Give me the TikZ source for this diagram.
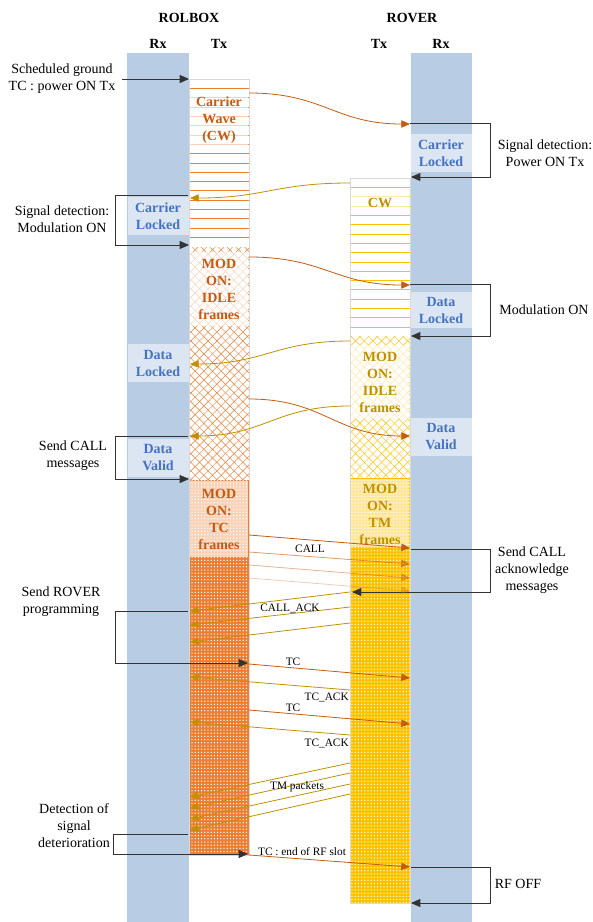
\documentclass[tikz,border=0pt]{standalone}
\usepackage{fontspec}
\setmainfont{Liberation Serif}
\usepackage{tikz}
\usetikzlibrary{arrows.meta,patterns.meta}
\definecolor{rxblue}{HTML}{B8CCE4}
\definecolor{lockfill}{HTML}{DCE6F2}
\definecolor{locktext}{HTML}{4472C4}
\definecolor{rborange}{HTML}{ED7D31}
\definecolor{rborangedk}{HTML}{C55A11}
\definecolor{rvgold}{HTML}{FFC000}
\definecolor{rvgolddk}{HTML}{BF9000}

\tikzset{
  note/.style={align=center,inner sep=0.75pt,font=\fontsize{10.5}{12.75}\selectfont},
  head/.style={inner sep=0.75pt,font=\bfseries\fontsize{10.5}{12.75}\selectfont},
  lockbox/.style={fill=lockfill,text=locktext,align=center,inner sep=0pt,minimum width=45.75pt,minimum height=29pt,font=\bfseries\fontsize{10.5}{12.75}\selectfont},
  rbtext/.style={text=rborangedk,align=center,inner sep=1pt,font=\bfseries\fontsize{10.5}{12.75}\selectfont},
  rvtext/.style={text=rvgolddk,align=center,inner sep=1pt,font=\bfseries\fontsize{10.5}{12.75}\selectfont},
  veil/.style={fill=white,fill opacity=0.65,text opacity=1,minimum width=44pt},
  msg/.style={inner sep=0.75pt,font=\fontsize{8.5}{10}\selectfont},
  bk/.style={draw=black!80,line width=0.6pt,-{Triangle[length=7pt,width=6pt]}},
  rbarrow/.style={draw=rborangedk,line width=0.6pt,-{Triangle[length=6.5pt,width=5.5pt]}},
  rvarrow/.style={draw=rvgolddk,line width=0.6pt,-{Triangle[length=6.5pt,width=5.5pt]}},
  hatchA/.style={pattern={Lines[angle=45,distance=4.6pt,line width=0.35pt]}},
  hatchB/.style={pattern={Lines[angle=-45,distance=4.6pt,line width=0.35pt]}},
  dotfill/.style={pattern={Dots[distance=2.4pt,radius=0.55pt]},pattern color=white}
}

\begin{document}
\begin{tikzpicture}[x=0.75pt,y=0.75pt,yscale=-1,xscale=1]
\useasboundingbox (0,0) rectangle (593,922);
% receive columns
\fill[rxblue] (127,53) rectangle (189,922);
\fill[rxblue] (411,53) rectangle (472,922);
% ROLBOX Tx
\foreach \y in {79,88.33,...,246} \draw[rborange,line width=0.7pt] (189,\y) -- (249,\y);
\path[hatchA,pattern color=rborange] (189,247) rectangle (249,480);
\path[hatchB,pattern color=rborange] (189,247) rectangle (249,480);
\fill[rborange] (189,480) rectangle (249,855);
\fill[rborange!35] (190,481) rectangle (248,557);
\path[dotfill] (189,480) rectangle (249,855);
\draw[gray!30,line width=0.4pt] (189,79) rectangle (249,855);
% ROVER Tx
\foreach \y in {178,187.33,...,335} \draw[rvgold,line width=0.7pt] (350,\y) -- (410,\y);
\path[hatchA,pattern color=rvgold] (350,336) rectangle (410,478);
\path[hatchB,pattern color=rvgold] (350,336) rectangle (410,478);
\fill[rvgold] (350,478) rectangle (410,903);
\fill[rvgold!40] (351,479) rectangle (409,547);
\path[dotfill] (350,478) rectangle (410,903);
\draw[gray!30,line width=0.4pt] (350,178) rectangle (410,903);

% headings
\node[head] (rolbox) at (189,18) {ROLBOX};
\node[head] (rover) at (412,18) {ROVER};
\node[head] (rbrx) at (158,44) {Rx};
\node[head] (rbtx) at (219,44) {Tx};
\node[head] (rvtx) at (379,44) {Tx};
\node[head] (rvrx) at (441,44) {Rx};

% states in Tx columns
\node[rbtext,veil,minimum height=38pt] (rbcw) at (219,120) {Carrier\\Wave\\(CW)};
\node[rbtext,veil,minimum height=55pt] (rbidle) at (219,289) {MOD\\ON:\\IDLE\\frames};
\node[rbtext] (rbtc) at (219,519) {MOD\\ON:\\TC\\frames};
\node[rvtext,veil,minimum height=12pt] (rvcw) at (380,203) {CW};
\node[rvtext,veil,minimum height=55pt] (rvidle) at (380,382) {MOD\\ON:\\IDLE\\frames};
\node[rvtext] (rvtm) at (380,514) {MOD\\ON:\\TM\\frames};

% states in Rx columns
\node[lockbox] (rbcl) at (158,216) {Carrier\\Locked};
\node[lockbox] (rbdl) at (158,363) {Data\\Locked};
\node[lockbox] (rbdv) at (158,458) {Data\\Valid};
\node[lockbox] (rvcl) at (441,153) {Carrier\\Locked};
\node[lockbox,minimum height=27pt] (rvdl) at (441,310) {Data\\Locked};
\node[lockbox,minimum height=28pt] (rvdv) at (441,437) {Data\\Valid};

% annotations
\node[note] (sched) at (62,79) {Scheduled ground\\TC : power ON Tx};
\node[note] (sigmod) at (62,219) {Signal detection:\\Modulation ON};
\node[note] (sigpow) at (545,153) {Signal detection:\\Power ON Tx};
\node[note] (modon) at (544,310) {Modulation ON};
\node[note] (sendcall) at (73,456) {Send CALL\\messages};
\node[note] (sendack) at (532,570) {Send CALL\\acknowledge\\messages};
\node[note] (sendprog) at (61,602) {Send ROVER\\programming};
\node[note] (detect) at (74,826) {Detection of\\signal\\deterioration};
\node[note] (rfoff) at (518,884) {RF OFF};

% bracket arrows
\coordinate (b1s) at (122,79);  \coordinate (b1e) at (189,79);
\coordinate (b2s) at (188,195); \coordinate (b2e) at (189,245);
\coordinate (b3s) at (410,123); \coordinate (b3e) at (411,177);
\coordinate (b4s) at (410,284); \coordinate (b4e) at (411,336);
\coordinate (b5s) at (188,436); \coordinate (b5e) at (189,479);
\coordinate (b6s) at (411,549); \coordinate (b6e) at (352,592);
\coordinate (b7s) at (188,611); \coordinate (b7e) at (248,663);
\coordinate (b8s) at (188,834); \coordinate (b8e) at (248,854);
\coordinate (b9s) at (411,867); \coordinate (b9e) at (411,903);
\draw[bk] (b1s) -- (b1e);
\draw[bk] (b2s) -- (115,195) |- (b2e);
\draw[bk] (b3s) -- (490,123) |- (b3e);
\draw[bk] (b4s) -- (490,284) |- (b4e);
\draw[bk] (b5s) -- (115,436) |- (b5e);
\draw[bk] (b6s) -- (490,549) |- (b6e);
\draw[bk] (b7s) -- (115,611) |- (b7e);
\draw[bk] (b8s) -- (113,834) |- (b8e);
\draw[bk] (b9s) -- (490,867) |- (b9e);

% carrier and idle signals
\coordinate (cw1s) at (249,93);  \coordinate (cw1e) at (410,124);
\coordinate (cw2s) at (350,183); \coordinate (cw2e) at (190,198);
\coordinate (id1s) at (249,257); \coordinate (id1e) at (410,285);
\coordinate (id2s) at (350,341); \coordinate (id2e) at (190,364);
\coordinate (id3s) at (249,399); \coordinate (id3e) at (410,436);
\coordinate (id4s) at (350,406); \coordinate (id4e) at (190,436);
\draw[rbarrow] (cw1s) .. controls +(75,0) and +(-75,0) .. (cw1e);
\draw[rvarrow] (cw2s) .. controls +(-75,0) and +(75,0) .. (cw2e);
\draw[rbarrow] (id1s) .. controls +(75,0) and +(-75,0) .. (id1e);
\draw[rvarrow] (id2s) .. controls +(-75,0) and +(75,0) .. (id2e);
\draw[rbarrow] (id3s) .. controls +(75,0) and +(-75,0) .. (id3e);
\draw[rvarrow] (id4s) .. controls +(-75,0) and +(75,0) .. (id4e);

% CALL messages
\foreach \a/\b/\o [count=\i] in {535/548/1,552/564/0.6,565/578/0.45,578/591/0.3}{
  \coordinate (call\i s) at (249,\a); \coordinate (call\i e) at (410,\b);
  \draw[rbarrow,opacity=\o] (call\i s) -- (call\i e);
}
% CALL_ACK messages
\foreach \a/\b [count=\i] in {592/611,607/625,623/642}{
  \coordinate (ack\i s) at (350,\a); \coordinate (ack\i e) at (190,\b);
  \draw[rvarrow] (ack\i s) -- (ack\i e);
}
% TC / TC_ACK
\coordinate (tc1s) at (249,664);  \coordinate (tc1e) at (410,678);
\coordinate (tca1s) at (350,690); \coordinate (tca1e) at (190,677);
\coordinate (tc2s) at (249,710);  \coordinate (tc2e) at (410,724);
\coordinate (tca2s) at (350,735); \coordinate (tca2e) at (190,722);
\draw[rbarrow] (tc1s) -- (tc1e);
\draw[rvarrow] (tca1s) -- (tca1e);
\draw[rbarrow] (tc2s) -- (tc2e);
\draw[rvarrow] (tca2s) -- (tca2e);
% TM packets
\foreach \a/\b [count=\i] in {763/797,773/808,784/819,794/830}{
  \coordinate (tm\i s) at (350,\a); \coordinate (tm\i e) at (190,\b);
  \draw[rvarrow] (tm\i s) -- (tm\i e);
}
% end of slot
\coordinate (ends) at (249,855); \coordinate (ende) at (410,867);
\draw[rbarrow] (ends) -- (ende);

% message labels
\node[msg] (lcall) at (310,549) {CALL};
\node[msg] (lack) at (290,608) {CALL\_ACK};
\node[msg] (ltc1) at (293,662) {TC};
\node[msg,anchor=east] (ltca1) at (350,697) {TC\_ACK};
\node[msg] (ltc2) at (293,708) {TC};
\node[msg,anchor=east] (ltca2) at (350,743) {TC\_ACK};
\node[msg] (ltm) at (297,787) {TM packets};
\node[msg] (lend) at (302,852) {TC : end of RF slot};
\end{tikzpicture}
\end{document}
